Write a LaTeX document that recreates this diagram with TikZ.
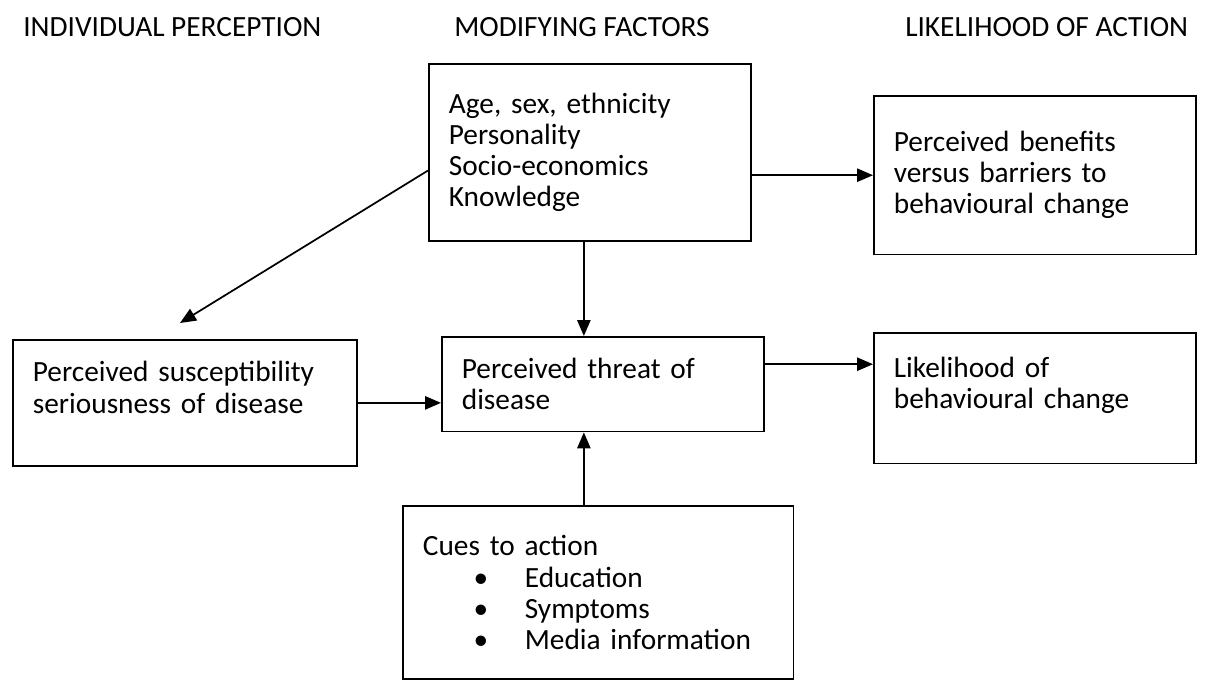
\documentclass[tikz,border=0pt]{standalone}
\usepackage{fontspec}
\setmainfont{Carlito}
\usetikzlibrary{arrows.meta}

\tikzset{
  hbm/.style={draw, line width=1.3pt, anchor=north west, align=left, inner xsep=15pt, inner ysep=0pt},
  hbmhead/.style={anchor=west, inner sep=0pt},
  arr/.style={line width=1.3pt, -{Triangle[length=12pt,width=10pt]}}
}

\begin{document}
\begin{tikzpicture}[x=0.75pt,y=0.75pt,yscale=-1,xscale=1,font=\fontsize{22}{23.3}\selectfont]
\useasboundingbox (0,0) rectangle (1207,679);

% column headings
\node[hbmhead] (hdPerc) at (23,27) {INDIVIDUAL PERCEPTION};
\node[hbmhead] (hdMod) at (454,27) {MODIFYING FACTORS};
\node[hbmhead] (hdLike) at (905,27) {LIKELIHOOD OF ACTION};

% boxes
\node[hbm, text width=211.5pt, minimum height=133pt] (factors) at (428,63) {Age, sex, ethnicity\\Personality\\Socio-economics\\Knowledge};
\node[hbm, text width=211.5pt, minimum height=119pt] (benefits) at (873,95) {Perceived benefits\\versus barriers to\\behavioural change};
\node[hbm, text width=228pt, minimum height=94.5pt] (susc) at (12,339) {Perceived susceptibility\\seriousness of disease\\ \mbox{}};
\node[hbm, text width=211.5pt, minimum height=71pt] (threat) at (441,336) {Perceived threat of\\disease};
\node[hbm, text width=211.5pt, minimum height=98pt] (likely) at (873,332) {Likelihood of\\behavioural change\\ \mbox{}};
\node[hbm, text width=263pt, minimum height=130pt] (cues) at (402,505) {Cues to action\\
  \hspace*{38pt}\makebox[38.5pt][l]{\textbullet}Education\\
  \hspace*{38pt}\makebox[38.5pt][l]{\textbullet}Symptoms\\
  \hspace*{38pt}\makebox[38.5pt][l]{\textbullet}Media information};

% arrows
\coordinate (suscTip) at (180,323);
\draw[arr] ([yshift=13.5pt]factors.west) -- (suscTip);
\draw[arr] (factors.east |- benefits.west) -- (benefits.west);
\draw[arr] ([xshift=-4.5pt]factors.south) -- ([xshift=-4.5pt]factors.south |- threat.north);
\draw[arr] (susc.east) -- (susc.east -| threat.west);
\draw[arr] ([yshift=-15pt]threat.east) -- ([yshift=-15pt]threat.east -| likely.west);
\draw[arr] ([xshift=-4.5pt]factors.south |- cues.north) -- ([xshift=-4.5pt]factors.south |- threat.south);
\end{tikzpicture}
\end{document}
